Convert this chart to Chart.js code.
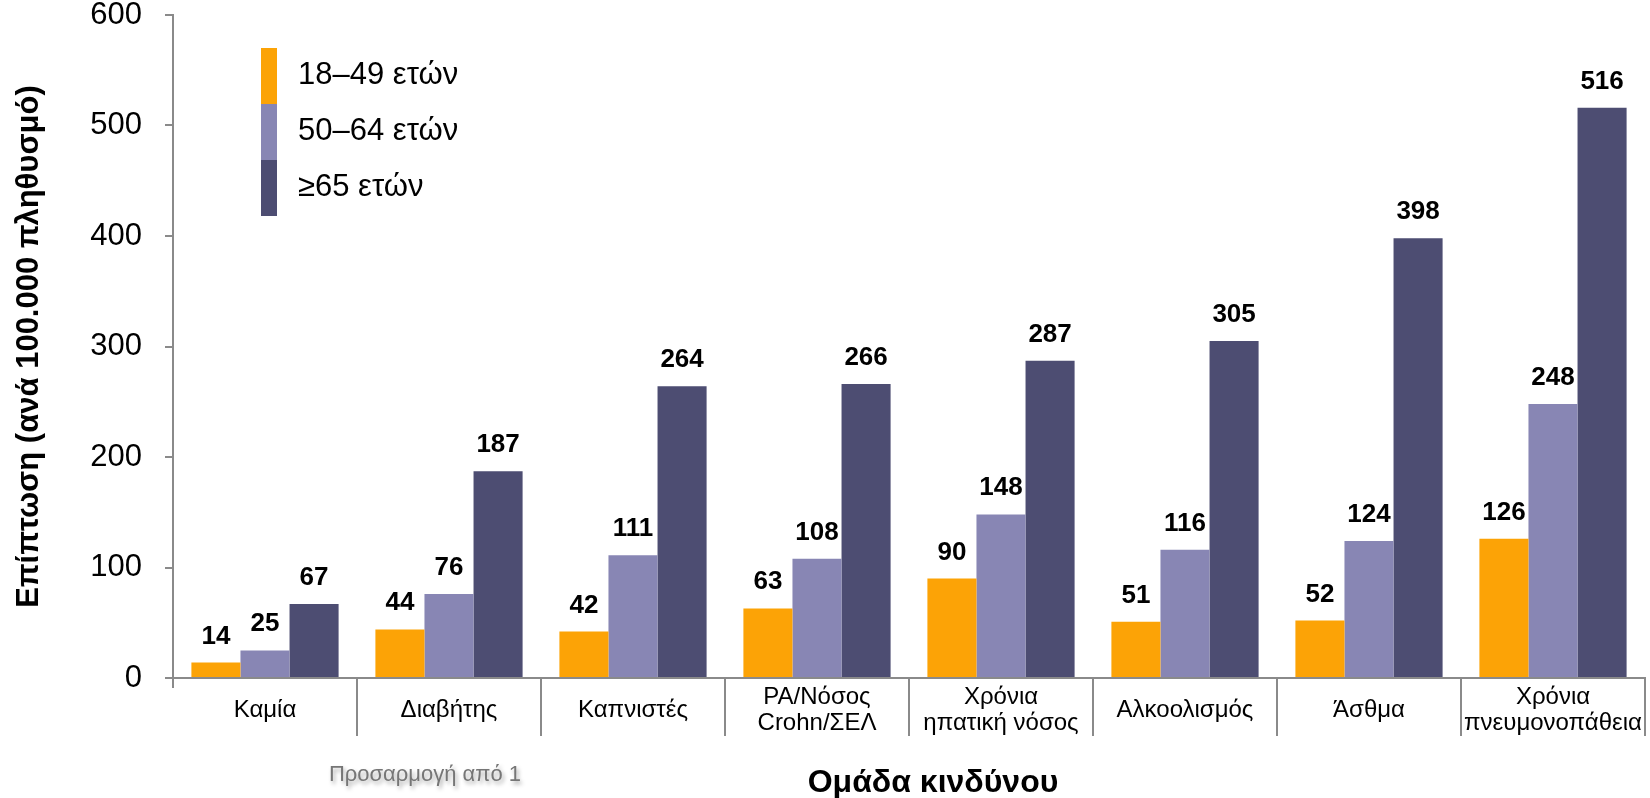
<!DOCTYPE html>
<html lang="el">
<head>
<meta charset="utf-8">
<title>Επίπτωση ανά ομάδα κινδύνου</title>
<script src="https://cdn.jsdelivr.net/npm/chart.js@4.4.1/dist/chart.umd.min.js"></script>
<style>
	html, body { margin: 0; padding: 0; background: #fff; }
	#wrap { position: relative; width: 1650px; height: 798px; }
</style>
</head>
<body>
<div id="wrap"><canvas id="incidence-chart"></canvas></div>
<script>
const categories = [
	'Καμία',
	'Διαβήτης',
	'Καπνιστές',
	['ΡΑ/Νόσος', 'Crohn/ΣΕΛ'],
	['Χρόνια', 'ηπατική νόσος'],
	'Αλκοολισμός',
	'Άσθμα',
	['Χρόνια', 'πνευμονοπάθεια']
];
const seriesLabels = ['18–49 ετών', '50–64 ετών', '≥65 ετών'];
const age18to49 = [14, 44, 42, 63, 90, 51, 52, 126];
const age50to64 = [25, 76, 111, 108, 148, 116, 124, 248];
const age65plus = [67, 187, 264, 266, 287, 305, 398, 516];
const yTicks = [0, 100, 200, 300, 400, 500, 600];

const FONT = "'Liberation Sans', Arial, sans-serif";
const AXIS_GRAY = '#8a8a8a';

(function() {
	'use strict';

	Chart.defaults.font.family = FONT;
	Chart.defaults.color = '#000';

	// Numbers above each bar.
	const valueLabels = {
		id: 'valueLabels',
		afterDatasetsDraw(chart) {
			const ctx = chart.ctx;
			ctx.save();
			ctx.font = 'bold 26px ' + FONT;
			ctx.fillStyle = '#000';
			ctx.textAlign = 'center';
			ctx.textBaseline = 'alphabetic';
			chart.data.datasets.forEach(function(ds, i) {
				chart.getDatasetMeta(i).data.forEach(function(bar, j) {
					ctx.fillText(String(ds.data[j]), bar.x, bar.y - 19);
				});
			});
			ctx.restore();
		}
	};

	// Stacked colour strip legend in the upper left.
	const stripLegend = {
		id: 'stripLegend',
		afterDraw(chart) {
			const ctx = chart.ctx;
			const x = 261, w = 16, h = 56;
			let y = 48;
			ctx.save();
			ctx.font = '31px ' + FONT;
			ctx.textAlign = 'left';
			ctx.textBaseline = 'middle';
			chart.data.datasets.forEach(function(ds) {
				ctx.fillStyle = ds.backgroundColor;
				ctx.fillRect(x, y, w, h);
				ctx.fillStyle = '#000';
				ctx.fillText(ds.label, 298, y + h / 2 - 1);
				y += h;
			});
			ctx.restore();
		}
	};

	// Axis title under the categories, source note, y-axis stub below the baseline.
	const extras = {
		id: 'extras',
		afterDraw(chart) {
			const ctx = chart.ctx;
			const area = chart.chartArea;
			ctx.save();

			ctx.strokeStyle = AXIS_GRAY;
			ctx.lineWidth = 2;
			ctx.beginPath();
			ctx.moveTo(area.left, area.bottom);
			ctx.lineTo(area.left, area.bottom + 10);
			ctx.stroke();

			ctx.fillStyle = '#000';
			ctx.font = 'bold 32px ' + FONT;
			ctx.textAlign = 'center';
			ctx.textBaseline = 'middle';
			ctx.fillText('Ομάδα κινδύνου', 933, 783);

			ctx.font = '22px ' + FONT;
			ctx.fillStyle = '#767676';
			ctx.shadowColor = 'rgba(0, 0, 0, 0.35)';
			ctx.shadowBlur = 4;
			ctx.shadowOffsetX = 2;
			ctx.shadowOffsetY = 3;
			ctx.fillText('Προσαρμογή από 1', 425, 775);
			ctx.restore();
		}
	};

	new Chart(document.getElementById('incidence-chart'), {
		type: 'bar',
		data: {
			labels: categories,
			datasets: [
				{ label: seriesLabels[0], data: age18to49, backgroundColor: '#FCA306' },
				{ label: seriesLabels[1], data: age50to64, backgroundColor: '#8886B4' },
				{ label: seriesLabels[2], data: age65plus, backgroundColor: '#4D4D72' }
			]
		},
		options: {
			responsive: true,
			maintainAspectRatio: false,
			animation: false,
			datasets: {
				bar: {
					categoryPercentage: 0.8,
					barPercentage: 1.0
				}
			},
			layout: {
				padding: { top: 15, right: 5, left: 0, bottom: 0 }
			},
			plugins: {
				legend: { display: false },
				tooltip: { enabled: false }
			},
			scales: {
				x: {
					offset: true,
					grid: {
						offset: true,
						drawOnChartArea: false,
						drawTicks: true,
						tickLength: 58,
						lineWidth: 2,
						color: function(c) {
							return c.index === 0 ? 'rgba(0,0,0,0)' : AXIS_GRAY;
						}
					},
					border: { color: AXIS_GRAY, width: 2 },
					ticks: {
						padding: -39,
						crossAlign: 'center',
						autoSkip: false,
						maxRotation: 0,
						color: '#000',
						font: { size: 24, lineHeight: 1.1 }
					},
					afterFit: function(scale) {
						scale.height = 120;
						scale.paddingLeft = 0;
						scale.paddingRight = 0;
					}
				},
				y: {
					min: 0,
					max: 600,
					afterBuildTicks: function(scale) {
						scale.ticks = yTicks.map(function(v) { return { value: v }; });
					},
					grid: {
						drawOnChartArea: false,
						tickLength: 8,
						lineWidth: 2,
						color: AXIS_GRAY
					},
					border: { color: AXIS_GRAY, width: 2 },
					ticks: {
						padding: 23,
						color: '#000',
						font: { size: 31 }
					},
					title: {
						display: true,
						text: 'Επίπτωση (ανά 100.000 πληθυσμό)',
						color: '#000',
						font: { size: 31, weight: 'bold' },
						padding: { top: 11, bottom: 0 }
					},
					afterFit: function(scale) {
						scale.width = 173;
						scale.paddingTop = 0;
						scale.paddingBottom = 0;
					}
				}
			}
		},
		plugins: [valueLabels, stripLegend, extras]
	});
})();
</script>
</body>
</html>
